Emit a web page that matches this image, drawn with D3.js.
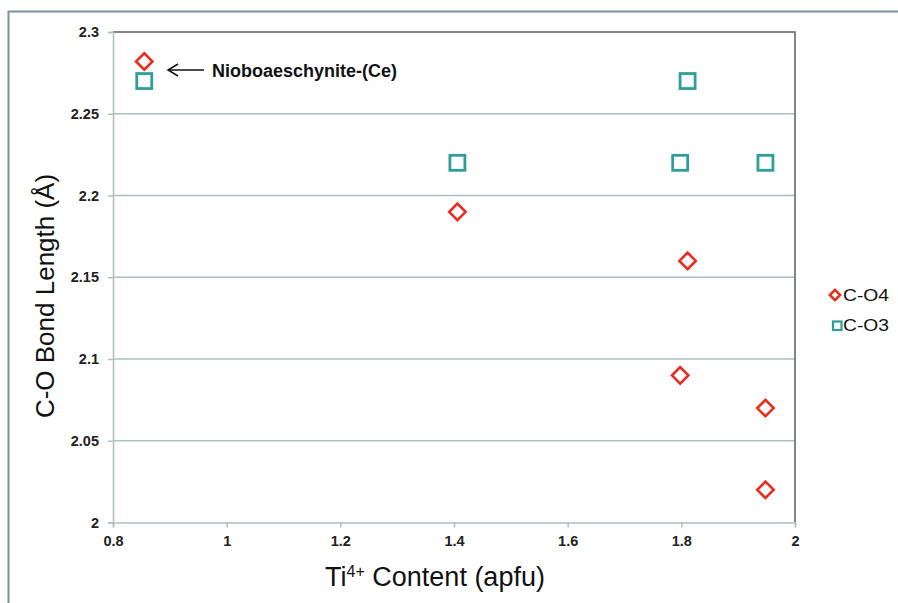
<!DOCTYPE html>
<html>
<head>
<meta charset="utf-8">
<script src="https://cdn.jsdelivr.net/npm/d3@7"></script>
<style>
  html, body { margin: 0; padding: 0; background: #fff; }
  svg { display: block; font-family: "Liberation Sans", Arial, sans-serif; }
</style>
</head>
<body>
<svg id="chart" width="898" height="603"></svg>
<script>
// Ti4+ content (apfu) against C–O bond lengths (Å)
const co4X = [0.855, 1.406, 1.811, 1.798, 1.948, 1.948];
const co4Y = [2.282, 2.19, 2.16, 2.09, 2.07, 2.02];
const co3X = [0.855, 1.406, 1.811, 1.798, 1.948];
const co3Y = [2.27, 2.22, 2.27, 2.22, 2.22];
const xTicks = [0.8, 1, 1.2, 1.4, 1.6, 1.8, 2];
const yTicks = [2, 2.05, 2.1, 2.15, 2.2, 2.25, 2.3];
const seriesNames = ["C-O4", "C-O3"];
const noteText = "Nioboaeschynite-(Ce)";

const red = "#ec2b1f", teal = "#2e9f98", grid = "#aebfbf";
const svg = d3.select("#chart");
const L = 113, R = 795, T = 32, B = 522.5;

const x = d3.scaleLinear().domain([0.8, 2]).range([L, R]);
const y = d3.scaleLinear().domain([2, 2.3]).range([B, T]);

// outer frame
svg.append("path").attr("d", "M8.5,603 L8.5,11.5 L898,11.5")
  .attr("fill", "none").attr("stroke", "#7a939a").attr("stroke-width", 2);

// horizontal gridlines
svg.append("g").selectAll("line").data(yTicks.slice(1, -1)).join("line")
  .attr("x1", L).attr("x2", R).attr("y1", d => y(d)).attr("y2", d => y(d))
  .attr("stroke", grid).attr("stroke-width", 1.5);

// plot border: top and right darker
svg.append("path").attr("d", `M${L},${T} L${R},${T} L${R},${B}`)
  .attr("fill", "none").attr("stroke", "#5a5f60").attr("stroke-width", 1.5);

// y axis
const yAxis = svg.append("g").attr("transform", `translate(${L},0)`)
  .call(d3.axisLeft(y).tickValues(yTicks).tickFormat(d3.format("")).tickSize(5).tickPadding(9));
// x axis
const xAxis = svg.append("g").attr("transform", `translate(0,${B})`)
  .call(d3.axisBottom(x).tickValues(xTicks).tickFormat(d3.format("")).tickSize(5).tickPadding(8));
[yAxis, xAxis].forEach(a => {
  a.select(".domain").attr("stroke", grid).attr("stroke-width", 1.5);
  a.selectAll(".tick line").attr("stroke", grid).attr("stroke-width", 1.5);
  a.selectAll(".tick text").attr("fill", "#222").attr("font-size", 14.5)
    .attr("font-weight", "bold").attr("font-family", "Liberation Sans, Arial, sans-serif");
});

// markers
const diamond = (s) => `M0,${-s} L${s},0 L0,${s} L${-s},0 Z`;
svg.append("g").selectAll("path").data(co4X.map((v, i) => [v, co4Y[i]])).join("path")
  .attr("transform", d => `translate(${x(d[0])},${y(d[1])})`)
  .attr("d", diamond(8.2)).attr("fill", "none").attr("stroke", red).attr("stroke-width", 2.6);

svg.append("g").selectAll("rect").data(co3X.map((v, i) => [v, co3Y[i]])).join("rect")
  .attr("x", d => x(d[0]) - 7.5).attr("y", d => y(d[1]) - 7.5)
  .attr("width", 15).attr("height", 15)
  .attr("fill", "none").attr("stroke", teal).attr("stroke-width", 2.8);

// annotation with arrow
const ay = 70;
svg.append("line").attr("x1", 169).attr("x2", 204).attr("y1", ay).attr("y2", ay)
  .attr("stroke", "#111").attr("stroke-width", 1.5);
svg.append("path").attr("d", `M178,${ay - 6} L168,${ay} L178,${ay + 6}`)
  .attr("fill", "none").attr("stroke", "#111").attr("stroke-width", 1.5);
svg.append("text").attr("x", 212).attr("y", ay + 6.5).text(noteText)
  .attr("font-size", 18).attr("font-weight", "bold").attr("fill", "#111");

// legend
const lg = svg.append("g");
lg.append("path").attr("transform", "translate(835,295)").attr("d", diamond(5.2))
  .attr("fill", "none").attr("stroke", red).attr("stroke-width", 2.5);
lg.append("rect").attr("x", 833).attr("y", 321.5).attr("width", 8.5).attr("height", 8.5)
  .attr("fill", "none").attr("stroke", teal).attr("stroke-width", 2.2);
lg.selectAll("text").data(seriesNames).join("text")
  .attr("x", 843).attr("y", (d, i) => 300.5 + i * 30).text(d => d)
  .attr("font-size", 16.5).attr("fill", "#111")
  .attr("textLength", 46).attr("lengthAdjust", "spacingAndGlyphs");

// axis titles
svg.append("text").attr("transform", "translate(54,296) rotate(-90)")
  .attr("text-anchor", "middle").attr("font-size", 26).attr("fill", "#111")
  .text("C-O Bond Length (Å)");
const xt = svg.append("text").attr("x", 435).attr("y", 586)
  .attr("text-anchor", "middle").attr("font-size", 27).attr("fill", "#111");
xt.append("tspan").text("Ti");
xt.append("tspan").attr("dy", -9).attr("font-size", 16).text("4+");
xt.append("tspan").attr("dy", 9).text(" Content (apfu)");
</script>
</body>
</html>
